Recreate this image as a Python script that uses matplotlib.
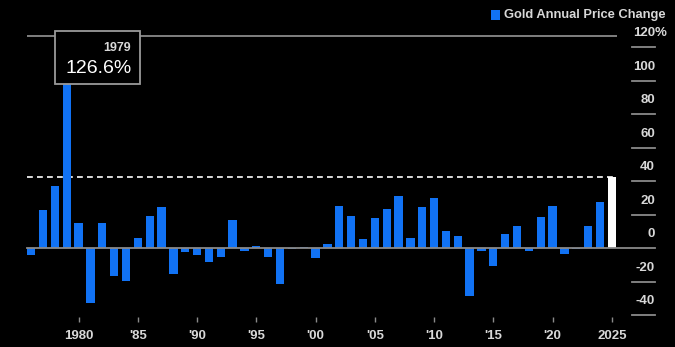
import matplotlib
matplotlib.use("Agg")
import matplotlib.pyplot as plt
import matplotlib.transforms as mtransforms
from matplotlib.patches import Rectangle

plt.rcParams['font.family'] = ['Liberation Sans', 'DejaVu Sans']

# annual % change in gold price, 1976 .. 2025
years = list(range(1976, 2026))
changes = [-4.0, 22.9, 37.2, 126.6, 15.3, -32.8, 15.1, -16.3, -19.3, 6.0,
           19.3, 24.7, -15.3, -2.4, -4.2, -8.0, -5.4, 16.9, -1.6, 1.2,
           -5.0, -21.5, -0.6, 0.6, -5.6, 2.4, 25.1, 19.5, 5.8, 18.1,
           23.5, 31.4, 6.0, 24.7, 29.8, 10.1, 7.2, -28.2, -1.4, -10.3,
           8.4, 13.5, -1.6, 18.5, 25.4, -3.6, -0.3, 13.3, 27.4, 42.7]

xtick_years = [1980, 1985, 1990, 1995, 2000, 2005, 2010, 2015, 2020, 2025]
xtick_labels = ['1980', "'85", "'90", "'95", "'00", "'05", "'10", "'15", "'20", '2025']
ytick_vals = [120, 100, 80, 60, 40, 20, 0, -20, -40]

blue = '#1172f4'
grey_text = '#d8d8d8'
line_grey = '#8a8a8a'

fig = plt.figure(figsize=(6.75, 3.47), dpi=100, facecolor='black')
ax = fig.add_axes([0.04, 1 - 322 / 347, 0.874, (322 - 30.3) / 347])
ax.set_facecolor('black')

colors = [blue] * (len(years) - 1) + ['white']
ax.bar(years, changes, width=0.7, color=colors, zorder=2)

ax.set_xlim(1975.65, 2025.43)
ax.set_ylim(-44, 130)

peak = max(changes)
peak_year = years[changes.index(peak)]
last = changes[-1]

ax.axhline(peak, color=line_grey, lw=1.3, zorder=1)
ax.axhline(last, color='white', lw=1.2, ls=(0, (3.5, 2.5)), zorder=1)
ax.axhline(0, xmax=1.0644, color=line_grey, lw=1.3, zorder=3, clip_on=False)

for s in ax.spines.values():
    s.set_visible(False)
ax.set_yticks([])
ax.set_xticks(xtick_years)
ax.set_xticklabels(xtick_labels, fontsize=9.5, fontweight='bold', color=grey_text)
ax.tick_params(axis='x', direction='in', length=3.6, width=1, color=line_grey, pad=6)

# right-hand value scale: short rules with the label sitting above
trans = ax.get_yaxis_transform()
lab_trans = mtransforms.offset_copy(trans, fig=fig, y=14, units='dots')
for v in ytick_vals:
    if v != 0:
        ax.plot([1.0254, 1.0644], [v, v], transform=trans, color=line_grey,
                lw=1.3, clip_on=False)
    ax.text(1.0644, v, str(v), transform=lab_trans, ha='right', va='center',
            fontsize=9.5, fontweight='bold', color=grey_text)
ax.text(1.0644, ytick_vals[0], '%', transform=lab_trans, ha='left', va='center',
        fontsize=9.5, fontweight='bold', color=grey_text)

# peak callout
ax.add_patch(Rectangle((peak_year - 1.0, peak - 28.6), 7.2, 31.8, facecolor='black',
                       edgecolor='#9a9a9a', lw=1.3, zorder=5, clip_on=False))
ax.text(peak_year + 5.45, peak - 7.2, str(peak_year), ha='right', va='center',
        fontsize=9, fontweight='bold', color=grey_text, zorder=6)
ax.text(peak_year + 5.45, peak - 19.6, f'{peak:.1f}%', ha='right', va='center',
        fontsize=14, color='white', zorder=6)

# legend
fig.patches.append(Rectangle((491 / 675, 1 - 19.5 / 347), 9 / 675, 9 / 347,
                             transform=fig.transFigure, facecolor=blue, figure=fig))
fig.text(504 / 675, 1 - 15 / 347, 'Gold Annual Price Change', ha='left', va='center',
         fontsize=9.3, fontweight='bold', color=grey_text)

fig.savefig('out.png', dpi=100, facecolor='black')
